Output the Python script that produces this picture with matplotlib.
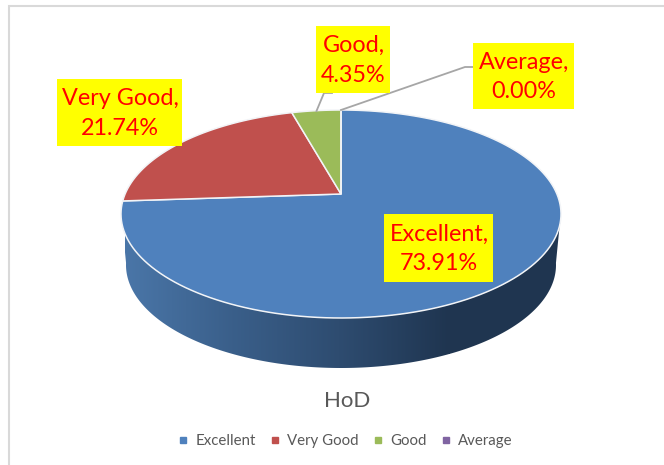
import numpy as np
import matplotlib
matplotlib.use("Agg")
import matplotlib.pyplot as plt
from matplotlib.patches import Polygon, Rectangle
from matplotlib.colors import LinearSegmentedColormap

categories = ["Excellent", "Very Good", "Good", "Average"]
values = [73.91, 21.74, 4.35, 0.00]
colors = ["#4F81BD", "#C0504D", "#9BBB59", "#8064A2"]
title = "HoD"

plt.rcParams["font.family"] = ["Lato", "DejaVu Sans"]
fig = plt.figure(figsize=(6.64, 4.65), dpi=100)
ax = fig.add_axes([0, 0, 1, 1])
ax.set_xlim(0, 664)
ax.set_ylim(465, 0)
ax.axis("off")

# frame
ax.add_patch(Rectangle((8.5, 6.5), 700, 500, fc="white", ec="#D9D9D9", lw=1.5, zorder=0))

# perspective disc
cx, cy, a, b, k = 341, 194, 215.9, 100.15, 0.1923

def project(theta):
    u, v = np.sin(theta), np.cos(theta)
    d = 1 + k * v
    return cx + a * u / d, cy - b * v / d

# side wall with gradient
t = np.linspace(np.pi / 2 - 0.02, 3 * np.pi / 2 + 0.02, 300)
xt = 341 + 220 * np.sin(t)
yt = 214 - 104 * np.cos(t)
xb = 341 + 215 * np.sin(t)
yb = 265 - 103 * np.cos(t)
side = Polygon(np.r_[np.c_[xt, yt], np.c_[xb, yb][::-1]], closed=True, fc="none", ec="none", zorder=1)
ax.add_patch(side)
cmap = LinearSegmentedColormap.from_list(
    "side", [(0, "#4A76A8"), (0.33, "#3A5F8A"), (0.66, "#2E4C70"), (1, "#1F3550")])
grad = np.linspace(0, 1, 256)[None, :]
im = ax.imshow(grad, extent=(125, 450, 380, 200), cmap=cmap, aspect="auto", interpolation="bilinear", zorder=1)
rest = Rectangle((449, 200), 116, 180, fc="#1F3550", ec="none", zorder=1)
ax.add_patch(rest)
rest.set_clip_path(side)
im.set_clip_path(side)
ax.set_xlim(0, 664)
ax.set_ylim(465, 0)

# top slices
fractions = np.array(values) / sum(values)
edges = np.r_[0, np.cumsum(fractions)] * 2 * np.pi
for i, name in enumerate(categories):
    n = max(2, int(200 * fractions[i]) + 2)
    th = np.linspace(edges[i], edges[i + 1], n)
    x, y = project(th)
    pts = np.r_[[[cx, cy]], np.c_[x, y]]
    ax.add_patch(Polygon(pts, closed=True, fc=colors[i], ec="#F2F4F7", lw=1.1, zorder=2, label=name, joinstyle="round"))

# leader lines
ax.plot([473, 465, 341], [67, 67, 110], color="#A6A6A6", lw=1.3, zorder=3)
ax.plot([332, 324, 316.5], [93, 93, 111], color="#A6A6A6", lw=1.3, zorder=3)

# data labels
boxes = [(384, 214, 109, 68), (57, 79, 125, 67), (316, 26, 74, 67), (473, 43, 101, 66)]
for name, val, (x0, y0, w, h) in zip(categories, values, boxes):
    ax.add_patch(Rectangle((x0, y0), w, h, fc="#FFFF00", ec="none", zorder=4))
    ax.text(x0 + w / 2 + 0.5, y0 + h / 2 + 1, f"{name},\n{val:.2f}%", color="#FF0000", fontsize=16.8,
            ha="center", va="center", linespacing=1.5, zorder=5)

ax.text(347.5, 401, title, color="#595959", fontsize=16, ha="center", va="center")

# legend
lh = [plt.Line2D([], [], ls="none", marker="s", ms=4.2, color=c) for c in colors]
ax.legend(lh, categories, loc="center", bbox_to_anchor=(343.5 / 664, 1 - 441 / 465), ncol=4, frameon=False,
          fontsize=10.8, labelcolor="#595959", handletextpad=0.2, columnspacing=0.7, handlelength=1.2)

fig.savefig("out.png", dpi=100)
